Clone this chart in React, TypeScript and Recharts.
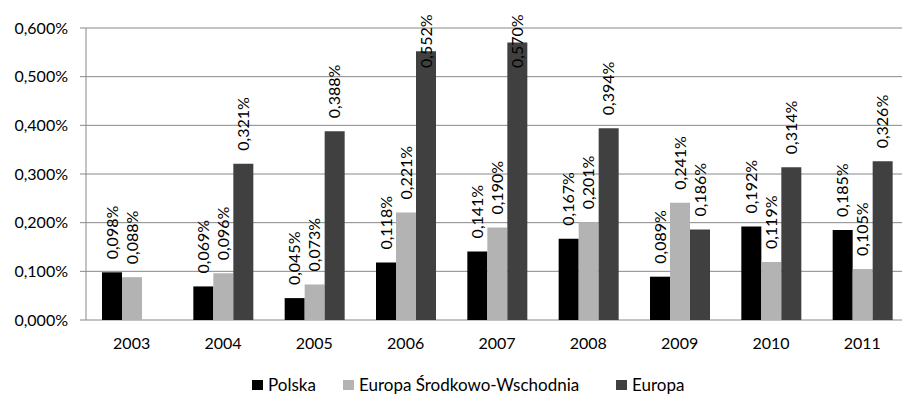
import React from 'react';
import { BarChart, Bar, XAxis, YAxis, CartesianGrid, Legend, LabelList } from 'recharts';

// Years on the category axis
const years = ['2003', '2004', '2005', '2006', '2007', '2008', '2009', '2010', '2011'];

// Values in percent
const polska = [0.098, 0.069, 0.045, 0.118, 0.141, 0.167, 0.089, 0.192, 0.185];
const europaSW = [0.088, 0.096, 0.073, 0.221, 0.19, 0.201, 0.241, 0.119, 0.105];
const europa: (number | null)[] = [null, 0.321, 0.388, 0.552, 0.57, 0.394, 0.186, 0.314, 0.326];

const yTicks = [0, 0.1, 0.2, 0.3, 0.4, 0.5, 0.6];
const bandTicks = [0, 1, 2, 3, 4, 5, 6, 7, 8, 9];

const seriesNames = ['Polska', 'Europa Środkowo-Wschodnia', 'Europa'];
const seriesColors = ['#000000', '#b3b3b3', '#404040'];
const legendItemWidths = [91, 273, 80];

const data = years.map((year, i) => ({
  year,
  idx: i + 0.5,
  polska: polska[i],
  europaSW: europaSW[i],
  europa: europa[i],
}));

const FONT = 'Lato, "Open Sans", sans-serif';

const fmt = (v: number) => v.toFixed(3).replace('.', ',') + '%';

// Vertical value label standing above a bar, kept inside the chart area
const VerticalLabel = (props: any) => {
  const { x, y, width, value } = props;
  if (value == null) return null;
  const cx = Number(x) + Number(width) / 2;
  const labelLen = 54;
  const minTop = 14;
  let bottom = Number(y) - 13;
  if (bottom - labelLen < minTop) bottom = minTop + labelLen;
  return (
    <text
      x={cx}
      y={bottom}
      transform={`rotate(-90 ${cx} ${bottom})`}
      textAnchor="start"
      dy="0.36em"
      fontFamily={FONT}
      fontSize={16}
      fill="#000"
    >
      {fmt(Number(value))}
    </text>
  );
};

const LegendContent = () => (
  <div
    style={{
      height: 44,
      boxSizing: 'border-box',
      paddingTop: 25,
      paddingLeft: 252,
      display: 'flex',
      alignItems: 'center',
      fontFamily: FONT,
      fontSize: 17,
      lineHeight: '16px',
      color: '#000',
      whiteSpace: 'nowrap',
    }}
  >
    {seriesNames.map((name, i) => (
      <div key={name} style={{ display: 'flex', alignItems: 'center', width: legendItemWidths[i], flex: 'none' }}>
        <span
          style={{
            display: 'inline-block',
            width: 11,
            height: 10,
            background: seriesColors[i],
            marginRight: 5,
          }}
        />
        <span>{name}</span>
      </div>
    ))}
  </div>
);

export default function App() {
  return (
    <div
      style={{
        position: 'absolute',
        left: 0,
        top: 0,
        width: 902,
        height: 394,
        overflow: 'hidden',
        background: '#fff',
      }}
    >
      <BarChart
        width={910}
        height={394}
        data={data}
        margin={{ top: 28, right: 2, left: 0, bottom: 0 }}
        barGap={0}
        barSize={20}
      >
        <CartesianGrid vertical={false} stroke="#888888" strokeWidth={1} />
        <XAxis
          xAxisId="band"
          type="number"
          dataKey="idx"
          domain={[0, 9]}
          ticks={bandTicks}
          allowDataOverflow
          height={0}
          tick={false}
          tickSize={5}
          axisLine={{ stroke: '#888888' }}
          tickLine={{ stroke: '#888888' }}
        />
        <XAxis
          xAxisId="cat"
          dataKey="year"
          height={30}
          axisLine={false}
          tickLine={false}
          tickSize={6}
          tickMargin={12}
          interval={0}
          tick={{ fontFamily: FONT, fontSize: 16, fill: '#000' }}
        />
        <YAxis
          width={86}
          domain={[0, 0.6]}
          ticks={yTicks}
          tickFormatter={fmt}
          tickSize={6}
          tickMargin={12}
          axisLine={{ stroke: '#888888' }}
          tickLine={{ stroke: '#888888' }}
          tick={{ fontFamily: FONT, fontSize: 16, fill: '#000' }}
        />
        <Legend
          verticalAlign="bottom"
          content={<LegendContent />}
          wrapperStyle={{ left: 0, width: 902, height: 44 }}
        />
        <Bar xAxisId="cat" dataKey="polska" name={seriesNames[0]} fill={seriesColors[0]} isAnimationActive={false}>
          <LabelList dataKey="polska" content={<VerticalLabel />} />
        </Bar>
        <Bar xAxisId="cat" dataKey="europaSW" name={seriesNames[1]} fill={seriesColors[1]} isAnimationActive={false}>
          <LabelList dataKey="europaSW" content={<VerticalLabel />} />
        </Bar>
        <Bar xAxisId="cat" dataKey="europa" name={seriesNames[2]} fill={seriesColors[2]} isAnimationActive={false}>
          <LabelList dataKey="europa" content={<VerticalLabel />} />
        </Bar>
      </BarChart>
    </div>
  );
}
